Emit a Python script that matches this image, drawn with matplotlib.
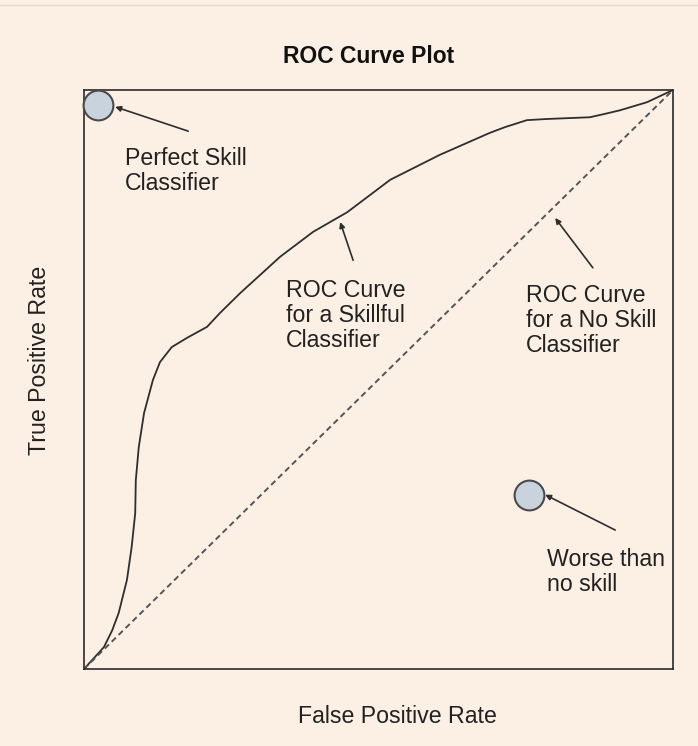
import matplotlib
matplotlib.use('Agg')
import matplotlib.pyplot as plt

plt.rcParams['font.family'] = ['Liberation Sans', 'DejaVu Sans']

# Skillful classifier ROC curve
fpr = [0.0, 0.017, 0.034, 0.048, 0.059, 0.073, 0.081, 0.087, 0.088, 0.093,
       0.102, 0.117, 0.129, 0.149, 0.175, 0.209, 0.231, 0.265, 0.333, 0.389,
       0.447, 0.520, 0.604, 0.689, 0.715, 0.752, 0.786, 0.859, 0.885, 0.910,
       0.956, 1.0]
tpr = [0.0, 0.019, 0.038, 0.067, 0.097, 0.154, 0.211, 0.269, 0.326, 0.383,
       0.442, 0.499, 0.530, 0.556, 0.572, 0.591, 0.615, 0.649, 0.712, 0.755,
       0.789, 0.845, 0.888, 0.926, 0.936, 0.948, 0.950, 0.953, 0.959, 0.965,
       0.979, 1.0]

# No skill diagonal
diag_x = [0.0, 1.0]
diag_y = [0.0, 1.0]

# Marker points
point_x = [0.024, 0.756]
point_y = [0.974, 0.300]

# Annotations: text, text position, arrow head, arrow tail
labels = ['Perfect Skill\nClassifier',
          'ROC Curve\nfor a Skillful\nClassifier',
          'ROC Curve\nfor a No Skill\nClassifier',
          'Worse than\nno skill']
label_pos = [(0.070, 0.902), (0.343, 0.674), (0.750, 0.665), (0.786, 0.209)]
arrow_head = [(0.053, 0.971), (0.435, 0.772), (0.800, 0.779), (0.783, 0.301)]
arrow_tail = [(0.177, 0.929), (0.457, 0.706), (0.864, 0.693), (0.902, 0.240)]

bg = '#fcefe4'
fig = plt.figure(figsize=(6.98, 7.46), dpi=100, facecolor=bg)
ax = fig.add_axes([0.1203, 0.1032, 0.8438, 0.7761], facecolor=bg)

# faint separator line at the top of the panel
fig.add_artist(plt.Line2D([0, 1], [0.993, 0.993], color='#e6dbd0', lw=1))

ax.plot(fpr, tpr, color='#2e2e2e', lw=1.3, solid_joinstyle='round')
ax.plot(diag_x, diag_y, color='#555555', lw=1.4, linestyle=(0, (3, 2)))
ax.scatter(point_x, point_y, s=460, color='#c8d3de', edgecolor='#4a4a4a',
           linewidth=1.5, zorder=5, clip_on=False)

for text, pos, head, tail in zip(labels, label_pos, arrow_head, arrow_tail):
    ax.text(pos[0], pos[1], text, ha='left', va='top', fontsize=16.7,
            color='#222222', linespacing=1.12)
    ax.annotate('', xy=head, xytext=tail,
                arrowprops=dict(arrowstyle='-|>', color='#2e2e2e', lw=1.2,
                                mutation_scale=8, shrinkA=0, shrinkB=0))

ax.set_xlim(0, 1)
ax.set_ylim(0, 1)
ax.set_xticks([])
ax.set_yticks([])
for sp in ax.spines.values():
    sp.set_color('#2a2a2a')
    sp.set_linewidth(1.2)

fig.text(0.528, 0.924, 'ROC Curve Plot', ha='center', va='center',
         fontsize=16.5, fontweight='bold', color='#111111')
fig.text(0.570, 0.040, 'False Positive Rate', ha='center', va='center',
         fontsize=16.7, color='#222222')
fig.text(0.057, 0.517, 'True Positive Rate', ha='center', va='center',
         rotation=90, fontsize=16.7, color='#222222')

fig.savefig('out.png', dpi=100, facecolor=bg)
